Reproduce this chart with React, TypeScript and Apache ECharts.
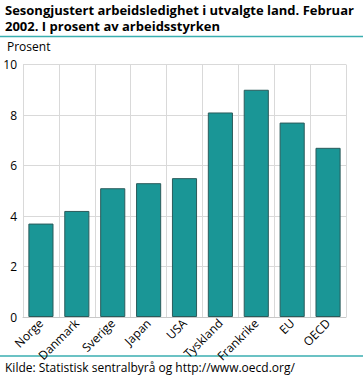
import React, { useEffect, useRef } from "react";
import * as echarts from "echarts";

const categories = ["Norge", "Danmark", "Sverige", "Japan", "USA", "Tyskland", "Frankrike", "EU", "OECD"];
const values = [3.7, 4.2, 5.1, 5.3, 5.5, 8.1, 9.0, 7.7, 6.7];
const titleLines = ["Sesongjustert arbeidsledighet i utvalgte land. Februar", "2002. I prosent av arbeidsstyrken"];
const unitLabel = "Prosent";
const sourceText = "Kilde: Statistisk sentralbyrå og http://www.oecd.org/";

const FONT = "'Open Sans', 'Noto Sans', sans-serif";

export default function App() {
  const ref = useRef<HTMLDivElement>(null);
  useEffect(() => {
    if (!ref.current) return;
    const chart = echarts.init(ref.current, null, { renderer: "svg" });
    chart.setOption({
      animation: false,
      backgroundColor: "#ffffff",
      grid: { left: 23, right: 17, top: 64.5, bottom: 65 },
      xAxis: {
        type: "category",
        data: categories,
        boundaryGap: true,
        axisLine: { show: true, lineStyle: { color: "#c8c8c8", width: 1 } },
        axisTick: { show: false },
        splitLine: { show: true, lineStyle: { color: "#d9d9d9", width: 1 } },
        axisLabel: {
          rotate: 45,
          interval: 0,
          color: "#000",
          fontFamily: FONT,
          fontSize: 12,
          margin: 4,
        },
      },
      yAxis: {
        type: "value",
        min: 0,
        max: 10,
        interval: 2,
        axisLine: { show: false },
        axisTick: { show: false },
        splitLine: { show: true, lineStyle: { color: "#d9d9d9", width: 1 } },
        axisLabel: { color: "#000", fontFamily: FONT, fontSize: 12, margin: 6 },
      },
      series: [
        {
          type: "bar",
          data: values,
          barWidth: "70%",
          itemStyle: { color: "#1a9696", borderColor: "#2b5b5b", borderWidth: 1 },
        },
      ],
      graphic: [
        ...titleLines.map((t, i) => ({
          type: "text",
          left: 5,
          top: 2 + i * 16.5,
          style: {
            text: t,
            font: `bold 13px ${FONT}`,
            lineHeight: 15,
            fill: "#000",
          },
        })),
        {
          type: "line",
          shape: { x1: 0, y1: 36.5, x2: 363, y2: 36.5 },
          style: { stroke: "#3aaeb0", lineWidth: 1.5 },
        },
        {
          type: "text",
          left: 7,
          top: 40,
          style: { text: unitLabel, font: `12px ${FONT}`, fill: "#000" },
        },
        {
          type: "line",
          shape: { x1: 0, y1: 356, x2: 363, y2: 356 },
          style: { stroke: "#3aaeb0", lineWidth: 1.5 },
        },
        {
          type: "text",
          left: 5,
          top: 361,
          style: { text: sourceText, font: `12px ${FONT}`, fill: "#000" },
        },
      ],
    });
    return () => chart.dispose();
  }, []);
  return <div ref={ref} style={{ width: 363, height: 382, position: "absolute", left: 0, top: 0 }} />;
}
